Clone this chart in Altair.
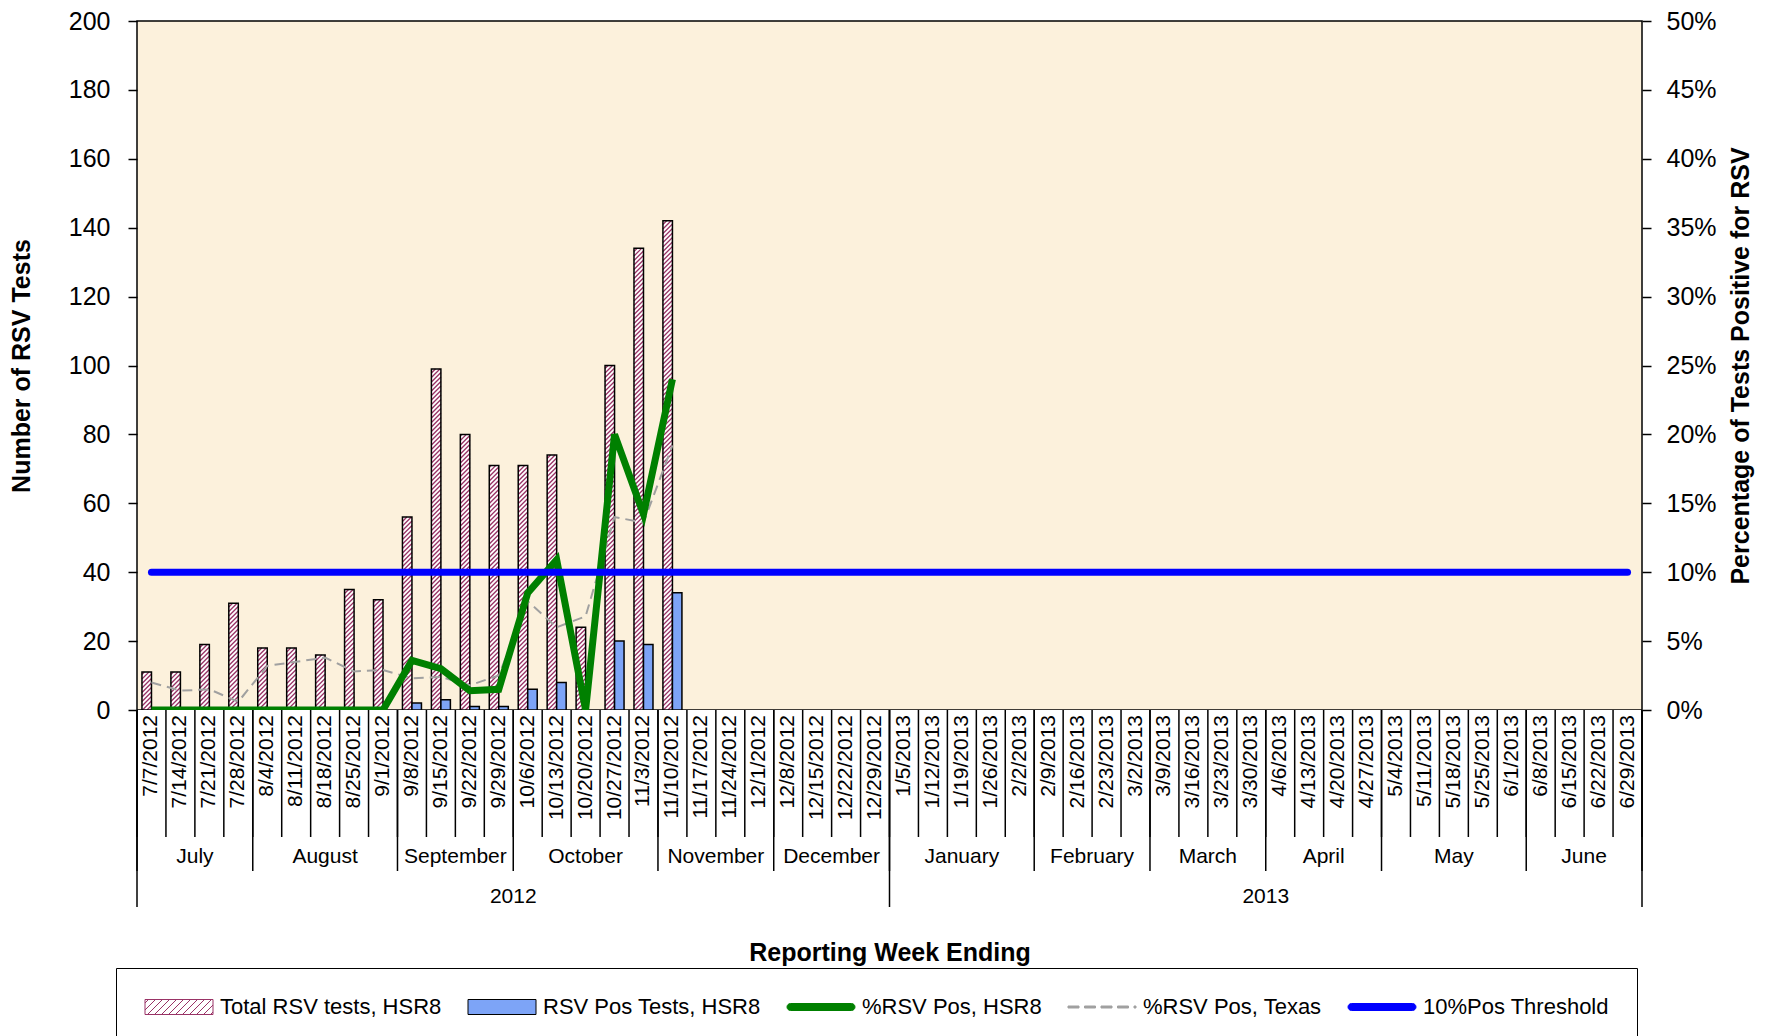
import altair as alt
import pandas as pd

# ---------------- data ----------------
weeks = [
    "7/7/2012", "7/14/2012", "7/21/2012", "7/28/2012",
    "8/4/2012", "8/11/2012", "8/18/2012", "8/25/2012", "9/1/2012",
    "9/8/2012", "9/15/2012", "9/22/2012", "9/29/2012",
    "10/6/2012", "10/13/2012", "10/20/2012", "10/27/2012", "11/3/2012",
    "11/10/2012", "11/17/2012", "11/24/2012", "12/1/2012",
    "12/8/2012", "12/15/2012", "12/22/2012", "12/29/2012",
    "1/5/2013", "1/12/2013", "1/19/2013", "1/26/2013", "2/2/2013",
    "2/9/2013", "2/16/2013", "2/23/2013", "3/2/2013",
    "3/9/2013", "3/16/2013", "3/23/2013", "3/30/2013",
    "4/6/2013", "4/13/2013", "4/20/2013", "4/27/2013",
    "5/4/2013", "5/11/2013", "5/18/2013", "5/25/2013", "6/1/2013",
    "6/8/2013", "6/15/2013", "6/22/2013", "6/29/2013",
]
months = ["July", "August", "September", "October", "November", "December",
          "January", "February", "March", "April", "May", "June"]
month_weeks = [4, 5, 4, 5, 4, 4, 5, 4, 4, 4, 5, 4]
years = ["2012", "2013"]
year_weeks = [26, 26]

total_tests = [11, 11, 19, 31, 18, 18, 16, 35, 32, 56, 99, 80, 71, 71, 74, 24, 100, 134, 142]
pos_tests = [0, 0, 0, 0, 0, 0, 0, 0, 0, 2, 3, 1, 1, 6, 8, 0, 20, 19, 34]
pct_pos_hsr8 = [0, 0, 0, 0, 0, 0, 0, 0, 0, 3.6, 3.0, 1.4, 1.5, 8.5, 10.9, 0, 20.0, 14.2, 24.0]
pct_pos_texas = [2.0, 1.4, 1.5, 0.6, 3.2, 3.5, 3.8, 2.8, 2.9, 2.3, 2.4, 1.8, 2.5, 7.9, 6.0, 6.8, 14.0, 13.6, 19.2]
threshold_pct = 10

series_names = ["Total RSV tests, HSR8", "RSV Pos Tests, HSR8", "%RSV Pos, HSR8",
                "%RSV Pos, Texas", "10%Pos Threshold"]

# ---------------- layout / style ----------------
FONT = "Liberation Sans"
W, H = 1505, 689
HB = 197
n = len(weeks)
px_x = W / n
px_y = H / 200.0
BW_PX = 9.5
bw = BW_PX / px_x           # bar width in x units
R = BW_PX / px_y            # 45 degree rise in y units
S = 4.5 / px_y              # stripe spacing in y units
HATCH = "#993366"
POS_FILL = "#7da4f7"
GREEN = "#008000"
GRAY = "#a0a0a0"
BLUE = "#0000ff"
PLOT_BG = "#fcf1dc"


def pad(v):
    return list(v) + [None] * (n - len(v))


df = pd.DataFrame({
    "week": weeks,
    "idx": list(range(n)),
    "total": pad(total_tests),
    "pos": pad(pos_tests),
    "hsr8": pad(pct_pos_hsr8),
    "texas": pad(pct_pos_texas),
    "thr": [threshold_pct] * n,
})

xs = alt.Scale(domain=[0, n], nice=False, zero=False)
ys_left = alt.Scale(domain=[0, 200], nice=False)
ys_right = alt.Scale(domain=[0, 50], nice=False)

left_axis = alt.Axis(
    title="Number of RSV Tests", values=list(range(0, 201, 20)), domain=False, grid=False,
    tickSize=9, tickWidth=1.5, tickColor="black", labelFontSize=25, labelPadding=18,
    labelColor="black", titleFontSize=25, titleFontWeight="bold", titlePadding=34,
    titleColor="black")
right_axis = alt.Axis(
    title="Percentage  of Tests Positive for RSV", orient="right", values=list(range(0, 51, 5)),
    labelExpr="datum.value + '%'", domain=False, grid=False, tickSize=9, tickWidth=1.5,
    tickColor="black", labelFontSize=25, labelPadding=15, labelColor="black",
    titleFontSize=25, titleFontWeight="bold", titlePadding=12, titleColor="black",
    titleAngle=270, titleBaseline="top")


def XM(field):
    return alt.X(field, scale=xs, axis=None)


def YL(field):
    return alt.Y(field, scale=ys_left, axis=left_axis)


def YR(field):
    return alt.Y(field, scale=ys_right, axis=right_axis)


base = alt.Chart(df).transform_calculate(xc="datum.idx + 0.5", zero="0")

tot = base.transform_filter("isValid(datum.total) && datum.total > 0").transform_calculate(
    xl=f"datum.xc - {bw}")

total_fill = tot.mark_rect(fill="white", strokeWidth=0).encode(
    x=XM("xl:Q"), x2="xc:Q", y=YL("total:Q"), y2="zero:Q")

stripes = tot.transform_calculate(
    seq=f"sequence({-R}, datum.total, {S})"
).transform_flatten(["seq"]).transform_calculate(
    ys="max(datum.seq, 0)", ye=f"min(datum.seq + {R}, datum.total)"
).transform_filter("datum.ye > datum.ys").transform_calculate(
    sx=f"datum.xl + (datum.ys - datum.seq) / {R} * {bw}",
    ex=f"datum.xl + (datum.ye - datum.seq) / {R} * {bw}",
).mark_rule(color=HATCH, strokeWidth=1.3).encode(
    x=XM("sx:Q"), x2="ex:Q", y=YL("ys:Q"), y2="ye:Q")

total_outline = tot.mark_rect(fillOpacity=0, stroke="black", strokeWidth=1.5).encode(
    x=XM("xl:Q"), x2="xc:Q", y=YL("total:Q"), y2="zero:Q")

pos_bars = base.transform_filter("isValid(datum.pos) && datum.pos > 0").transform_calculate(
    xr=f"datum.xc + {bw}"
).mark_rect(fill=POS_FILL, stroke="black", strokeWidth=1.5).encode(
    x=XM("xc:Q"), x2="xr:Q", y=YL("pos:Q"), y2="zero:Q")

texas_line = base.mark_line(color=GRAY, strokeWidth=2, strokeDash=[10, 6]).encode(
    x=XM("xc:Q"), y=YR("texas:Q"))
hsr8_line = base.mark_line(color=GREEN, strokeWidth=7, clip=True).encode(
    x=XM("xc:Q"), y=YR("hsr8:Q"))
thr_line = base.mark_line(color=BLUE, strokeWidth=7, strokeCap="round").encode(
    x=XM("xc:Q"), y=YR("thr:Q"))

main = alt.layer(
    alt.layer(total_fill, stripes, total_outline, pos_bars),
    alt.layer(texas_line, hsr8_line, thr_line),
).resolve_scale(y="independent").properties(width=W, height=H)

# ---------------- category axis panel ----------------
bottom_axis = alt.Axis(title="Reporting  Week Ending", domain=False, ticks=False, labels=False,
                       grid=False, titleFontSize=25, titleFontWeight="bold", titlePadding=33,
                       titleColor="black")


def XB(field):
    return alt.X(field, scale=xs, axis=bottom_axis)


week_df = pd.DataFrame({"week": weeks, "xc": [i + 0.5 for i in range(n)]})
week_bnd = pd.DataFrame({"b": list(range(n + 1))})
mcum = [0]
for m in month_weeks:
    mcum.append(mcum[-1] + m)
month_df = pd.DataFrame({"month": months, "start": mcum[:-1], "end": mcum[1:]})
month_bnd = pd.DataFrame({"b": mcum})
ycum = [0]
for y in year_weeks:
    ycum.append(ycum[-1] + y)
year_df = pd.DataFrame({"year": years, "start": ycum[:-1], "end": ycum[1:]})
year_bnd = pd.DataFrame({"b": ycum})

date_text = alt.Chart(week_df).mark_text(
    angle=270, align="right", baseline="middle", fontSize=21, font=FONT, color="black"
).encode(x=XB("xc:Q"), y=alt.value(5), text="week:N")
week_rules = alt.Chart(week_bnd).mark_rule(color="black", strokeWidth=1.5).encode(
    x=XB("b:Q"), y=alt.value(0), y2=alt.value(127))
month_rules = alt.Chart(month_bnd).mark_rule(color="black", strokeWidth=1.5).encode(
    x=XB("b:Q"), y=alt.value(0), y2=alt.value(161))
month_text = alt.Chart(month_df).transform_calculate(
    mid="(datum.start + datum.end) / 2"
).mark_text(fontSize=21, font=FONT, color="black", baseline="middle").encode(
    x=XB("mid:Q"), y=alt.value(147), text="month:N")
year_rules = alt.Chart(year_bnd).mark_rule(color="black", strokeWidth=1.5).encode(
    x=XB("b:Q"), y=alt.value(0), y2=alt.value(197))
year_text = alt.Chart(year_df).transform_calculate(
    mid="(datum.start + datum.end) / 2"
).mark_text(fontSize=21, font=FONT, color="black", baseline="middle").encode(
    x=XB("mid:Q"), y=alt.value(187), text="year:N")


# ---------------- legend (library legend with custom symbols) ----------------
def f3(v):
    return f"{v:.3f}"


def rect_path(a, h):
    return f"M{f3(-a)},{f3(-h)}H{f3(a)}V{f3(h)}H{f3(-a)}Z"


def hatch_path(a, h, step):
    rise = 2 * h
    parts = [rect_path(a, h)]
    x0 = -a - rise + step / 2
    while x0 < a:
        sx, sy = x0, h
        ex, ey = x0 + rise, -h
        if sx < -a:
            sy = h - (-a - sx)
            sx = -a
        if ex > a:
            ey = -h + (ex - a)
            ex = a
        parts.append(f"M{f3(sx)},{f3(sy)}L{f3(ex)},{f3(ey)}")
        x0 += step
    return "".join(parts)


def round_line_path(a, h):
    return (f"M{f3(-a + h)},{f3(-h)}H{f3(a - h)}A{f3(h)},{f3(h)} 0 0 1 {f3(a - h)},{f3(h)}"
            f"H{f3(-a + h)}A{f3(h)},{f3(h)} 0 0 1 {f3(-a + h)},{f3(-h)}Z")


def dash_path(a, h, dash, gap):
    parts = []
    x = -a
    while x < a:
        e = min(x + dash, a)
        parts.append(f"M{f3(x)},{f3(-h)}H{f3(e)}V{f3(h)}H{f3(x)}Z")
        x += dash + gap
    return "".join(parts)


A_HALF = 3.4
leg_shapes = [
    hatch_path(A_HALF, 0.75, 0.7),
    rect_path(A_HALF, 0.75),
    round_line_path(A_HALF, 0.35),
    dash_path(A_HALF, 0.1, 1.1, 0.55),
    round_line_path(A_HALF, 0.35),
]
leg_fill = ["#ffffff", POS_FILL, GREEN, GRAY, BLUE]
leg_stroke = [HATCH, "black", GREEN, GRAY, BLUE]

leg = alt.Legend(
    orient="none", legendX=-21, legendY=947, direction="horizontal", columns=5,
    symbolSize=400, symbolStrokeWidth=1, symbolOffset=24, labelOffset=30,
    labelFontSize=22, labelFont=FONT, labelColor="black", labelLimit=600,
    columnPadding=24, padding=28, strokeColor="black", fillColor="white")

legend_df = pd.DataFrame({"series": series_names})
legend_layer = alt.Chart(legend_df).transform_filter("false").mark_point(
    filled=True, opacity=1
).encode(
    x=XB("zero:Q"),
    fill=alt.Fill("series:N", scale=alt.Scale(domain=series_names, range=leg_fill),
                  legend=leg, title=None),
    stroke=alt.Stroke("series:N", scale=alt.Scale(domain=series_names, range=leg_stroke),
                      legend=leg, title=None),
    shape=alt.Shape("series:N", scale=alt.Scale(domain=series_names, range=leg_shapes),
                    legend=leg, title=None),
).transform_calculate(zero="0")

bottom = alt.layer(
    week_rules, month_rules, year_rules, date_text, month_text, year_text, legend_layer
).properties(width=W, height=HB,
             view=alt.ViewBackground(fill="white", stroke="transparent"))

chart = alt.vconcat(main, bottom, spacing=0, bounds="flush").properties(
    padding={"left": 0, "top": 0, "right": 5, "bottom": 0}
).configure(font=FONT).configure_view(fill=PLOT_BG, stroke="black", strokeWidth=1.5)

chart.save("out.html", embed_options={"renderer": "svg", "actions": False})
